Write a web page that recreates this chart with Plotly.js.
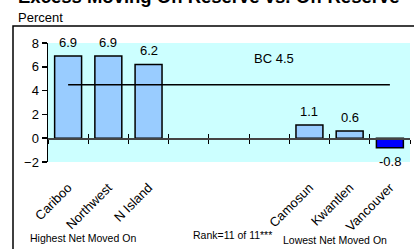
<!DOCTYPE html>
<html>
<head>
<meta charset="utf-8">
<script src="https://cdn.plot.ly/plotly-3.0.1.min.js"></script>
<style>html,body{margin:0;padding:0;background:#fff;}#chart{width:414px;height:249px;}</style>
</head>
<body>
<div id="chart"></div>
<script>
// ---- data ----
const categories = ["Cariboo", "Northwest", "N Island", "", "", "", "Camosun", "Kwantlen", "Vancouver"];
const values = [6.9, 6.9, 6.2, null, null, null, 1.1, 0.6, -0.8];
const bcAverage = 4.5;
const bcLabel = "BC 4.5";
const yTicks = [-2, 0, 2, 4, 6, 8];
const titleText = "Excess Moving On Reserve vs. Off Reserve";
const yUnit = "Percent";
const footLeft = "Highest Net Moved On";
const footMid = "Rank=11 of 11***";
const footRight = "Lowest Net Moved On";

// ---- layout helpers ----
const W = 414, H = 249;
const M = {l: 48, r: 4, t: 43, b: 87};
const pw = W - M.l - M.r, ph = H - M.t - M.b;
const px = x => (x - M.l) / pw;      // pixel -> paper x
const py = y => (H - M.b - y) / ph;  // pixel -> paper y

const idx = categories.map((c, i) => i);
const bounds = [-0.5].concat(idx.map(i => i + 0.5));
const FONT = "Arial, 'Liberation Sans', sans-serif";

const barColors = values.map(v => (v !== null && v < 0) ? "#0000FF" : "#99CCFF");

const traces = [
  {
    type: "bar", x: idx, y: values, width: 0.67,
    marker: {color: barColors, line: {color: "#000", width: 1.5}},
    hoverinfo: "none", xaxis: "x", yaxis: "y"
  },
  {
    type: "scatter", mode: "lines",
    x: [idx[0], idx[idx.length - 1]], y: [bcAverage, bcAverage],
    line: {color: "#000", width: 1.5}, hoverinfo: "none", xaxis: "x", yaxis: "y"
  },
  {type: "scatter", mode: "markers", x: [0], y: [0], marker: {opacity: 0}, hoverinfo: "none", xaxis: "x2", yaxis: "y"},
  {type: "scatter", mode: "markers", x: [0], y: [0], marker: {opacity: 0}, hoverinfo: "none", xaxis: "x3", yaxis: "y"}
];

const xr = [-0.5, categories.length - 0.5];
const yr = [yTicks[0], yTicks[yTicks.length - 1]];
const zeroPos = (0 - yr[0]) / (yr[1] - yr[0]);

const annotations = [];
values.forEach((v, i) => {
  if (v === null) return;
  annotations.push({
    x: i, y: v, xref: "x", yref: "y", text: v.toFixed(1), showarrow: false,
    yshift: v >= 0 ? 14 : -14, font: {family: FONT, size: 13, color: "#000"}
  });
});
annotations.push({x: 5, y: bcAverage, xref: "x", yref: "y", text: bcLabel, showarrow: false,
  xshift: 5, yshift: 26, font: {family: FONT, size: 13, color: "#000"}});
annotations.push({x: px(16), y: py(9.5), xref: "paper", yref: "paper", xanchor: "left", yanchor: "bottom",
  text: "<b>" + titleText + "</b>", showarrow: false, font: {family: FONT, size: 18.5, color: "#000"}});
annotations.push({x: px(16), y: py(17), xref: "paper", yref: "paper", xanchor: "left", yanchor: "middle",
  text: yUnit, showarrow: false, font: {family: FONT, size: 13, color: "#000"}});
annotations.push({x: px(83), y: py(238), xref: "paper", yref: "paper", xanchor: "center", yanchor: "middle",
  text: footLeft, showarrow: false, font: {family: FONT, size: 10.5, color: "#000"}});
annotations.push({x: px(232), y: py(235), xref: "paper", yref: "paper", xanchor: "center", yanchor: "middle",
  text: footMid, showarrow: false, font: {family: FONT, size: 10.5, color: "#000"}});
annotations.push({x: px(335), y: py(240), xref: "paper", yref: "paper", xanchor: "center", yanchor: "middle",
  text: footRight, showarrow: false, font: {family: FONT, size: 10.5, color: "#000"}});

const layout = {
  width: W, height: H, margin: M,
  paper_bgcolor: "#fff", plot_bgcolor: "#CCFFFF",
  showlegend: false, bargap: 0.33,
  font: {family: FONT, size: 13, color: "#000"},
  xaxis: {
    range: xr, anchor: "free", position: zeroPos, side: "bottom",
    showgrid: false, zeroline: false, showline: true, linecolor: "#444", linewidth: 1.5,
    tickmode: "array", tickvals: bounds, ticks: "outside", ticklen: 4, tickwidth: 1, tickcolor: "#000",
    showticklabels: false, fixedrange: true
  },
  xaxis2: {
    range: xr, overlaying: "x", anchor: "free", position: zeroPos, side: "bottom",
    showgrid: false, zeroline: false, showline: false,
    tickmode: "array", tickvals: bounds, ticks: "inside", ticklen: 4, tickwidth: 1, tickcolor: "#000",
    showticklabels: false, fixedrange: true
  },
  xaxis3: {
    range: xr, overlaying: "x", anchor: "y", side: "bottom",
    showgrid: false, zeroline: false, showline: false,
    tickmode: "array", tickvals: idx, ticktext: categories, tickangle: -45,
    ticks: "outside", ticklen: 12, tickcolor: "rgba(0,0,0,0)",
    tickfont: {family: FONT, size: 13, color: "#000"}, fixedrange: true
  },
  yaxis: {
    range: yr, tickmode: "array", tickvals: yTicks,
    showgrid: false, zeroline: false, showline: true, linecolor: "#000", linewidth: 1.5,
    ticks: "outside", ticklen: 5, tickwidth: 1.5, tickcolor: "#000",
    tickfont: {family: FONT, size: 13, color: "#000"}, fixedrange: true
  },
  shapes: [
    {type: "rect", xref: "paper", yref: "paper", x0: px(13), x1: px(430), y0: py(270), y1: py(26),
     line: {color: "#000", width: 1.5}, fillcolor: "rgba(0,0,0,0)", layer: "above"}
  ],
  annotations: annotations
};

Plotly.newPlot("chart", traces, layout, {displayModeBar: false, staticPlot: true});
</script>
</body>
</html>
